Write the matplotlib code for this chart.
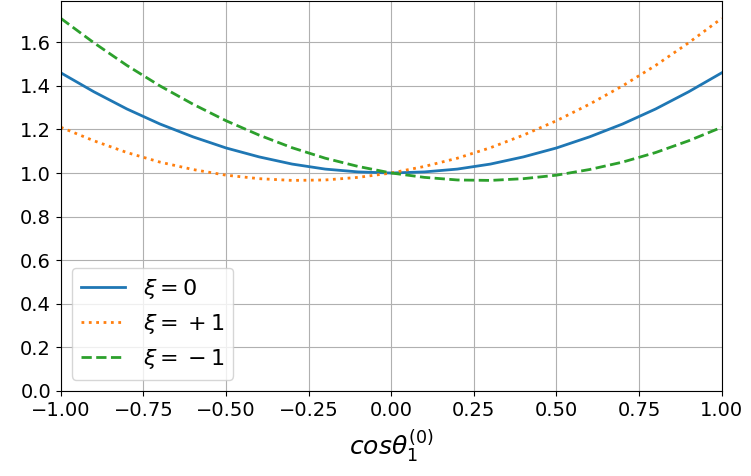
import matplotlib
matplotlib.use('Agg')
import matplotlib.pyplot as plt

# values, x step 0.1
x = [-1.0, -0.9, -0.8, -0.7, -0.6, -0.5, -0.4, -0.3, -0.2, -0.1, 0.0,
     0.1, 0.2, 0.3, 0.4, 0.5, 0.6, 0.7, 0.8, 0.9, 1.0]
xi_0 = [1.460, 1.373, 1.294, 1.225, 1.166, 1.115, 1.074, 1.041, 1.018, 1.005, 1.000,
        1.005, 1.018, 1.041, 1.074, 1.115, 1.166, 1.225, 1.294, 1.373, 1.460]
xi_p1 = [1.210, 1.148, 1.094, 1.050, 1.016, 0.990, 0.974, 0.966, 0.968, 0.980, 1.000,
         1.030, 1.068, 1.116, 1.174, 1.240, 1.316, 1.400, 1.494, 1.598, 1.710]
xi_m1 = [1.710, 1.598, 1.494, 1.400, 1.316, 1.240, 1.174, 1.116, 1.068, 1.030, 1.000,
         0.980, 0.968, 0.966, 0.974, 0.990, 1.016, 1.050, 1.094, 1.148, 1.210]
labels = [r'$\xi = 0$', r'$\xi = {} + 1$', r'$\xi = {} - 1$']

fig, ax = plt.subplots(figsize=(7.51, 4.76), dpi=100)
ax.plot(x, xi_0, '-', color='tab:blue', lw=2, label=labels[0])
ax.plot(x, xi_p1, ':', color='tab:orange', lw=2, label=labels[1])
ax.plot(x, xi_m1, '--', color='tab:green', lw=2, label=labels[2])
ax.set_xlim(-1, 1)
ax.set_ylim(0, 1.79)
ax.set_xticks([-1, -0.75, -0.5, -0.25, 0, 0.25, 0.5, 0.75, 1])
ax.set_yticks([0, 0.2, 0.4, 0.6, 0.8, 1.0, 1.2, 1.4, 1.6])
ax.tick_params(labelsize=14)
ax.grid(True)
ax.set_xlabel(r'$cos\theta_1^{(0)}$', fontsize=18, labelpad=6)
ax.legend(loc='lower left', fontsize=16)
plt.subplots_adjust(left=0.081, right=0.961, top=0.998, bottom=0.179)
plt.savefig('out.png')
